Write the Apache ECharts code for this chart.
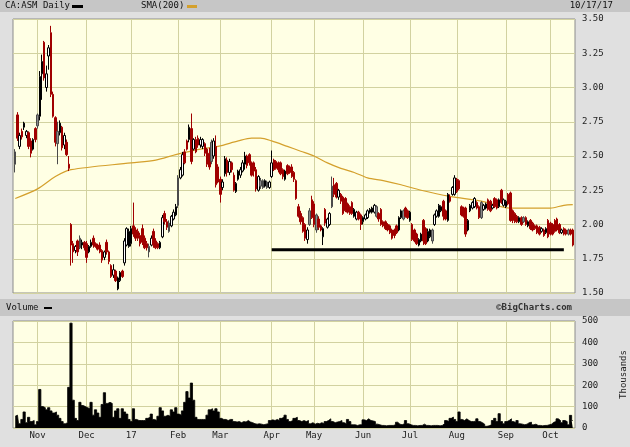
<!DOCTYPE html>
<html><head><meta charset="utf-8">
<script src="https://cdn.jsdelivr.net/npm/echarts@6/dist/echarts.min.js"></script>
<style>html,body{margin:0;padding:0;background:#e0e0e0}#c{width:630px;height:447px}</style>
</head><body><div id="c"></div>
<script>
// ---- data (trading days 10/18/16 .. 10/17/17) ----
const opens = [
2.44,2.80,2.57,2.68,2.71,2.65,2.67,2.61,2.55,2.70,
2.72,2.79,3.10,3.33,3.00,3.23,3.40,2.95,2.78,2.59,
2.67,2.71,2.58,2.60,2.44,2.00,1.86,1.81,1.88,1.83,
1.85,1.87,1.86,1.80,1.84,1.90,1.86,1.85,1.85,1.81,
1.76,1.87,1.80,1.70,1.63,1.66,1.53,1.59,1.66,1.72,
1.85,1.84,1.86,1.99,1.96,1.95,1.92,1.97,1.90,1.86,
1.84,1.85,1.95,1.88,1.86,1.83,1.91,2.08,2.02,2.01,
1.99,2.04,2.07,2.14,2.34,2.36,2.53,2.61,2.62,2.70,
2.55,2.62,2.63,2.58,2.57,2.59,2.55,2.52,2.46,2.50,
2.57,2.42,2.33,2.27,2.37,2.47,2.38,2.45,2.36,2.24,
2.33,2.36,2.39,2.44,2.50,2.51,2.45,2.45,2.40,2.25,
2.32,2.32,2.28,2.31,2.27,2.35,2.47,2.46,2.45,2.45,
2.40,2.33,2.43,2.42,2.42,2.38,2.32,2.13,2.08,2.05,
2.00,1.89,2.00,2.18,2.15,1.96,2.04,1.99,1.91,2.11,
1.98,2.00,2.13,2.29,2.30,2.20,2.22,2.20,2.19,2.15,
2.13,2.16,2.06,2.04,2.09,2.07,2.02,2.04,2.05,2.09,
2.09,2.09,2.13,2.08,2.11,2.02,2.02,2.00,1.99,1.96,
1.96,1.99,1.96,2.05,2.10,2.12,2.10,2.03,2.00,1.96,
1.93,1.85,1.88,2.03,1.97,1.88,1.91,1.96,2.00,2.06,
2.06,2.10,2.17,2.10,2.03,2.20,2.22,2.22,2.33,2.32,
2.13,2.12,2.12,1.96,2.10,2.12,2.13,2.16,2.13,2.05,
2.11,2.12,2.18,2.17,2.12,2.19,2.18,2.13,2.25,2.14,
2.13,2.22,2.23,2.10,2.08,2.06,2.02,2.05,2.05,2.05,
1.99,2.03,2.01,1.99,1.99,1.98,1.95,1.96,1.94,2.03,
2.01,2.00,2.03,2.04,2.00,1.94,1.97,1.96,1.93,1.96,1.96];
const closes = [
2.53,2.63,2.65,2.64,2.74,2.68,2.57,2.52,2.62,2.62,
2.80,3.08,3.19,3.07,3.10,3.29,2.95,2.79,2.60,2.68,
2.74,2.56,2.65,2.51,2.41,1.85,1.80,1.84,1.80,1.90,
1.87,1.83,1.76,1.84,1.87,1.85,1.84,1.82,1.80,1.74,
1.80,1.80,1.73,1.62,1.67,1.59,1.61,1.65,1.62,1.88,
1.97,1.95,1.97,1.93,1.90,1.90,1.86,1.87,1.83,1.83,
1.80,1.90,1.85,1.83,1.83,1.87,2.05,2.02,1.98,1.95,
2.06,2.09,2.13,2.34,2.40,2.51,2.45,2.55,2.71,2.46,
2.62,2.53,2.58,2.62,2.62,2.52,2.44,2.42,2.60,2.61,
2.29,2.31,2.22,2.31,2.48,2.38,2.46,2.40,2.25,2.30,
2.39,2.40,2.45,2.50,2.43,2.45,2.36,2.39,2.26,2.35,
2.28,2.27,2.32,2.27,2.31,2.45,2.40,2.41,2.40,2.37,
2.35,2.39,2.37,2.38,2.35,2.33,2.19,2.06,2.02,1.95,
1.90,1.96,2.10,2.05,2.00,2.07,1.98,1.96,1.97,2.01,
2.04,2.08,2.28,2.22,2.20,2.25,2.17,2.08,2.10,2.09,
2.08,2.08,2.11,2.09,2.04,2.00,2.05,2.07,2.10,2.11,
2.12,2.14,2.06,2.04,2.00,1.99,1.97,1.96,1.94,1.90,
1.92,1.94,2.05,2.10,2.04,2.06,2.05,2.09,1.89,1.88,
1.86,1.89,1.93,1.88,1.86,1.95,1.96,1.88,2.07,2.10,
2.14,2.13,2.06,2.04,2.22,2.17,2.27,2.34,2.24,2.26,
2.07,2.06,1.93,2.03,2.14,2.16,2.19,2.12,2.05,2.16,
2.14,2.15,2.11,2.10,2.14,2.13,2.12,2.18,2.16,2.18,
2.17,2.15,2.03,2.03,2.02,2.02,2.05,2.00,2.02,2.00,
2.02,1.97,1.96,1.97,1.94,1.93,1.97,1.92,1.97,1.91,
1.93,1.93,1.95,1.96,1.94,1.96,1.93,1.93,1.96,1.93,1.85];
const lows = [
2.38,2.61,2.55,2.62,2.69,2.63,2.55,2.49,2.54,2.60,
2.70,2.76,2.91,3.05,2.97,3.13,2.93,2.78,2.57,2.44,
2.65,2.54,2.55,2.50,2.39,1.70,1.72,1.79,1.77,1.82,
1.82,1.81,1.72,1.79,1.83,1.83,1.83,1.81,1.79,1.72,
1.74,1.78,1.71,1.61,1.61,1.58,1.52,1.58,1.61,1.70,
1.84,1.83,1.84,1.91,1.88,1.88,1.84,1.85,1.82,1.81,
1.76,1.84,1.83,1.82,1.82,1.82,1.90,2.00,1.96,1.94,
1.98,2.03,2.06,2.12,2.33,2.35,2.44,2.54,2.60,2.44,
2.54,2.52,2.56,2.56,2.55,2.50,2.42,2.40,2.44,2.48,
2.27,2.30,2.16,2.25,2.35,2.35,2.36,2.38,2.24,2.23,
2.32,2.34,2.38,2.40,2.41,2.43,2.35,2.35,2.24,2.24,
2.26,2.26,2.27,2.26,2.26,2.34,2.39,2.40,2.38,2.36,
2.33,2.32,2.36,2.37,2.34,2.31,2.18,2.05,2.00,1.94,
1.88,1.86,1.99,2.04,1.98,1.94,1.96,1.95,1.85,1.99,
1.97,1.99,2.12,2.20,2.19,2.18,2.15,2.07,2.09,2.08,
2.07,2.07,2.05,2.03,2.03,1.96,2.00,2.03,2.04,2.08,
2.08,2.08,2.05,2.02,1.99,1.98,1.96,1.95,1.93,1.89,
1.90,1.93,1.95,2.04,2.03,2.05,2.04,2.02,1.88,1.87,
1.85,1.84,1.87,1.85,1.85,1.87,1.90,1.86,1.99,2.05,
2.05,2.09,2.03,2.03,2.02,2.16,2.21,2.21,2.23,2.25,
2.06,2.05,1.91,1.95,2.09,2.11,2.12,2.11,2.04,2.04,
2.10,2.11,2.10,2.09,2.11,2.12,2.11,2.12,2.15,2.13,
2.12,2.14,2.02,2.01,2.01,2.01,2.01,1.99,2.01,1.99,
1.98,1.96,1.95,1.96,1.93,1.92,1.94,1.91,1.93,1.90,
1.92,1.92,1.94,1.95,1.93,1.93,1.92,1.92,1.92,1.92,1.84];
const highs = [
2.55,2.82,2.67,2.70,2.75,2.69,2.68,2.63,2.63,2.71,
2.81,3.12,3.24,3.34,3.16,3.31,3.45,2.97,2.79,2.75,
2.76,2.72,2.67,2.62,2.50,2.01,1.88,1.85,1.89,1.92,
1.89,1.88,1.88,1.85,1.89,1.92,1.87,1.86,1.87,1.82,
1.81,1.89,1.81,1.71,1.71,1.67,1.62,1.66,1.67,1.90,
1.98,1.97,1.99,2.16,1.98,1.97,1.94,2.00,1.92,1.88,
1.86,1.92,1.97,1.90,1.87,1.88,2.07,2.10,2.04,2.03,
2.07,2.11,2.15,2.36,2.42,2.53,2.55,2.62,2.73,2.81,
2.63,2.64,2.65,2.64,2.63,2.60,2.56,2.56,2.62,2.63,
2.65,2.44,2.35,2.33,2.50,2.49,2.48,2.46,2.38,2.31,
2.40,2.42,2.47,2.53,2.51,2.52,2.46,2.46,2.42,2.36,
2.34,2.33,2.33,2.32,2.32,2.54,2.48,2.47,2.46,2.46,
2.41,2.40,2.44,2.43,2.44,2.39,2.33,2.15,2.10,2.06,
2.01,1.98,2.12,2.21,2.17,2.08,2.06,2.00,1.98,2.12,
2.05,2.09,2.35,2.34,2.31,2.26,2.23,2.21,2.20,2.16,
2.14,2.17,2.12,2.10,2.10,2.08,2.06,2.08,2.11,2.12,
2.13,2.15,2.14,2.09,2.12,2.03,2.03,2.01,2.00,1.97,
1.97,2.00,2.06,2.11,2.11,2.13,2.11,2.10,2.01,1.97,
1.94,1.90,1.94,2.04,1.98,1.97,1.97,1.97,2.08,2.11,
2.15,2.14,2.18,2.11,2.23,2.22,2.28,2.36,2.34,2.33,
2.14,2.13,2.13,2.04,2.15,2.17,2.20,2.17,2.14,2.17,
2.15,2.16,2.19,2.18,2.15,2.20,2.19,2.19,2.26,2.19,
2.18,2.23,2.24,2.11,2.09,2.07,2.06,2.06,2.06,2.06,
2.03,2.04,2.02,2.00,2.00,1.99,1.98,1.97,1.98,2.04,
2.02,2.01,2.04,2.05,2.01,1.97,1.98,1.97,1.97,1.97,1.97];
const volumes = [
55,60,20,40,75,25,50,30,35,15,
30,180,100,95,85,95,80,70,75,60,
45,30,20,25,190,490,130,45,35,120,
105,100,95,90,120,60,85,70,50,110,
165,115,120,115,50,80,90,45,90,75,
65,40,30,90,40,35,35,35,35,45,
50,65,40,35,55,95,80,55,60,55,
85,75,95,65,60,80,120,170,140,210,
130,50,40,40,40,40,60,85,90,80,
90,75,45,40,40,35,40,40,30,28,
30,25,30,28,35,28,25,20,18,20,
18,15,18,20,35,38,35,40,35,45,
50,60,40,30,35,45,50,35,30,35,
30,35,20,25,18,22,20,25,20,30,
35,43,30,25,28,30,35,25,20,40,
30,15,15,12,15,15,38,35,43,35,
33,30,18,15,12,12,10,12,12,12,
15,27,18,15,20,35,20,15,12,12,
10,12,12,18,12,12,10,12,12,12,
10,12,20,35,30,45,51,40,30,75,
40,35,43,35,30,30,32,43,30,25,
18,8,10,15,35,45,30,67,30,20,
30,35,43,30,25,35,20,18,15,18,
25,27,15,18,12,12,10,12,12,15,
18,27,30,43,35,25,35,30,15,59,35];
// days drawn as grey-filled candles in the original
const greyDays = [0,10,19,29,60,69,73,88,110,111,113,132,135,142,162,174,187,209,228,248];
const smaIdx = [0,10,18,25,52,63,72,83,91,100,106,110,115,122,128,134,140,146,152,158,165,173,182,195,209,222,231,240,246,250];
const smaVal = [2.19,2.26,2.35,2.40,2.45,2.47,2.51,2.55,2.57,2.61,2.63,2.63,2.61,2.57,2.535,2.50,2.45,2.41,2.38,2.34,2.32,2.29,2.25,2.205,2.17,2.12,2.12,2.12,2.14,2.145];
const monthIdx = [10,32,52,73,92,115,134,156,177,198,220,240];
const monthLabels = ['Nov','Dec','17','Feb','Mar','Apr','May','Jun','Jul','Aug','Sep','Oct'];
const priceMin = 1.5, priceMax = 3.5, priceStep = 0.25;
const volMin = 0, volMax = 500, volStep = 100;
const supportLevel = 1.815, supportFrom = 115, supportTo = 246;

// ---- build ----
const N = opens.length;
const cats = [];
for (let i = -1; i <= N; i++) cats.push(String(i));
const labelByVal = {};
monthIdx.forEach((m, j) => { labelByVal[String(m)] = monthLabels[j]; });
const isMonth = (index, value) => labelByVal[value] !== undefined;

const greyStyle = {color: '#8a8a8a', color0: '#8a8a8a', borderColor: '#4a4a4a', borderColor0: '#4a4a4a'};
const candleData = opens.map((o, i) => {
  const v = [i + 1, o, closes[i], lows[i], highs[i]];
  return greyDays.indexOf(i) >= 0 ? {value: v, itemStyle: greyStyle} : v;
});
const volData = volumes.map((v, i) => [i + 1, v]);
const smaData = smaIdx.map((k, j) => [k + 1, smaVal[j]]);
const supData = [[supportFrom + 1, supportLevel], [supportTo + 1, supportLevel]];

const FONT = 'DejaVu Sans Mono';
const gridCol = '#d2d2a0';
const chart = echarts.init(document.getElementById('c'));
chart.setOption({
  animation: false,
  backgroundColor: '#e0e0e0',
  grid: [
    {left: 13, right: 55, top: 19, height: 274, show: true, backgroundColor: '#ffffe4', borderColor: '#8c8c8c', borderWidth: 1, containLabel: false, outerBoundsMode: 'none'},
    {left: 13, right: 55, top: 321, height: 107, show: true, backgroundColor: '#ffffe4', borderColor: '#8c8c8c', borderWidth: 1, containLabel: false, outerBoundsMode: 'none'}
  ],
  xAxis: [
    {type: 'category', gridIndex: 0, data: cats, boundaryGap: false,
     axisLine: {show: false}, axisTick: {show: false}, axisLabel: {show: false},
     splitLine: {show: true, interval: isMonth, lineStyle: {color: gridCol, width: 1}}},
    {type: 'category', gridIndex: 1, data: cats, boundaryGap: false,
     axisLine: {show: false}, axisTick: {show: false},
     axisLabel: {show: true, interval: isMonth, formatter: v => labelByVal[v] || '', color: '#222', fontFamily: FONT, fontSize: 9, margin: 3},
     splitLine: {show: true, interval: isMonth, lineStyle: {color: gridCol, width: 1}}}
  ],
  yAxis: [
    {type: 'value', gridIndex: 0, position: 'right', min: priceMin, max: priceMax, interval: priceStep,
     axisLine: {show: false}, axisTick: {show: false},
     axisLabel: {formatter: v => v.toFixed(2), color: '#222', fontFamily: FONT, fontSize: 9, margin: 7},
     splitLine: {show: true, lineStyle: {color: gridCol, width: 1}}},
    {type: 'value', gridIndex: 1, position: 'right', min: volMin, max: volMax, interval: volStep,
     axisLine: {show: false}, axisTick: {show: false},
     axisLabel: {color: '#222', fontFamily: FONT, fontSize: 9, margin: 7},
     splitLine: {show: true, lineStyle: {color: gridCol, width: 1}},
     name: 'Thousands', nameLocation: 'middle', nameRotate: 90, nameGap: 44,
     nameTextStyle: {color: '#222', fontFamily: FONT, fontSize: 9}}
  ],
  series: [
    {type: 'line', xAxisIndex: 0, yAxisIndex: 0, data: smaData, showSymbol: false, smooth: 0.3,
     lineStyle: {color: '#d4a02c', width: 1.2}, z: 1},
    {type: 'candlestick', xAxisIndex: 0, yAxisIndex: 0, data: candleData,
     encode: {x: 0, y: [1, 2, 3, 4]}, barWidth: 2,
     itemStyle: {color: '#ffffff', color0: '#a00000', borderColor: '#000000', borderColor0: '#a00000', borderWidth: 1}, z: 3},
    {type: 'line', xAxisIndex: 0, yAxisIndex: 0, data: supData, showSymbol: false,
     lineStyle: {color: '#000000', width: 3}, z: 4},
    {type: 'line', xAxisIndex: 1, yAxisIndex: 1, data: volData, showSymbol: false, step: 'middle',
     lineStyle: {color: '#000000', width: 0.8}, areaStyle: {color: '#000000', opacity: 1}}
  ],
  graphic: [
    {type: 'rect', shape: {x: 0, y: 0, width: 630, height: 12}, style: {fill: '#c6c6c6'}, z: -1},
    {type: 'text', x: 5, y: 6, style: {text: 'CA:ASM Daily', font: '9px ' + FONT, fill: '#111', textVerticalAlign: 'middle'}},
    {type: 'rect', shape: {x: 72, y: 5, width: 11, height: 3}, style: {fill: '#000'}},
    {type: 'text', x: 141, y: 6, style: {text: 'SMA(200)', font: '9px ' + FONT, fill: '#111', textVerticalAlign: 'middle'}},
    {type: 'rect', shape: {x: 187, y: 5, width: 10, height: 3}, style: {fill: '#d4a02c'}},
    {type: 'text', x: 613, y: 6, style: {text: '10/17/17', font: '9px ' + FONT, fill: '#111', textAlign: 'right', textVerticalAlign: 'middle'}},
    {type: 'rect', shape: {x: 0, y: 299, width: 630, height: 17}, style: {fill: '#c6c6c6'}, z: -1},
    {type: 'text', x: 6, y: 308, style: {text: 'Volume', font: '9px ' + FONT, fill: '#111', textVerticalAlign: 'middle'}},
    {type: 'rect', shape: {x: 44, y: 307, width: 8, height: 2}, style: {fill: '#000'}},
    {type: 'text', x: 572, y: 308, style: {text: '\u00A9BigCharts.com', font: 'bold 9px ' + FONT, fill: '#333', textAlign: 'right', textVerticalAlign: 'middle'}}
  ]
});
</script>
</body></html>
